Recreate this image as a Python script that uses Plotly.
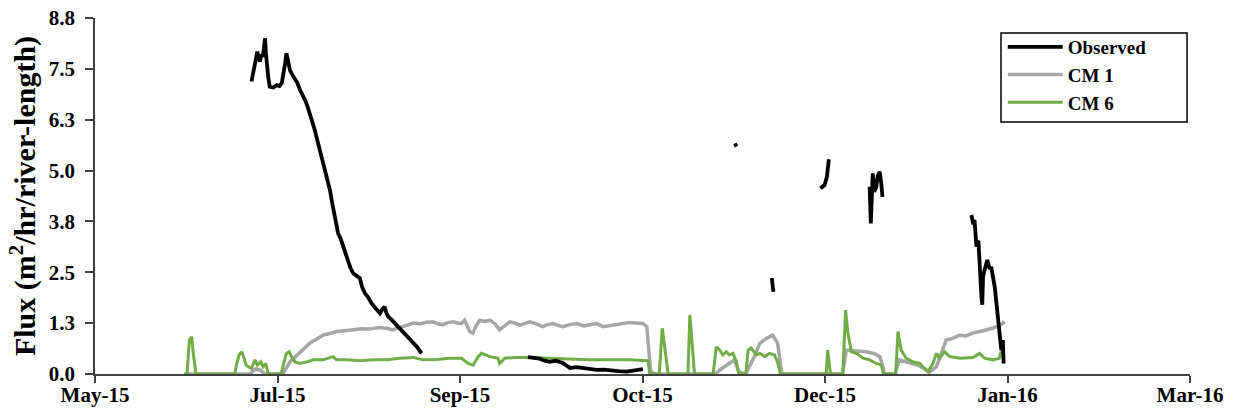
import pandas as pd
import plotly.graph_objects as go

BASE = pd.Timestamp("2015-01-01")

# x values are day numbers counted from 2015-01-01
obs_day = [190.3, 190.8, 191.2, 191.5, 191.8, 192.2, 192.5, 192.9, 193.2, 193.5, 193.8, 194.0, 194.2,
           194.6, 195.0, 195.9, 196.8, 197.5, 198.1, 198.6, 199.0, 199.3, 199.7, 200.2, 200.8, 201.5,
           202.1, 202.8, 203.4, 204.1, 204.7, 205.3, 206.0, 206.6, 207.2, 207.9, 208.5, 209.2, 209.8,
           210.5, 211.1, 211.8, 212.2, 212.6, 213.2, 213.9, 214.5, 215.2, 215.8, 216.5, 217.3, 218.2,
           218.8, 219.5, 220.3, 221.2, 222.3, 223.4, 224.0, 224.6, 225.0, 225.5, 226.5, 227.7, 229.0,
           230.2, 231.0, 231.9, 233.0, 234.1,
           245.0,
           261.5, 263.0, 264.5, 265.8, 267.1, 268.7, 270.5, 271.4, 272.3, 274.0, 275.6, 277.4, 279.2,
           281.0, 282.6, 284.8, 286.9, 289.0, 291.1,
           300.0,
           314.8, 315.2,
           320.0,
           324.3, 324.5, 324.7,
           330.0,
           336.8, 337.9, 338.5, 339.0,
           345.0,
           349.5, 349.8, 350.0, 350.3, 350.7, 351.2, 351.6, 352.1, 352.5, 352.8,
           365.0,
           375.7, 376.2, 376.5, 377.0, 377.5, 377.8, 378.3, 378.5, 378.7, 379.1, 379.8, 380.4,
           380.8, 381.7, 382.5, 383.0, 383.4, 383.8, 384.0]
obs_val = [7.23, 7.45, 7.68, 7.85, 7.97, 7.80, 7.72, 7.90, 7.84, 8.05, 8.30, 7.95, 7.68,
           7.35, 7.10, 7.08, 7.14, 7.12, 7.19, 7.43, 7.70, 7.93, 7.70, 7.51, 7.40, 7.31,
           7.20, 7.02, 6.92, 6.77, 6.62, 6.44, 6.26, 6.03, 5.80, 5.54, 5.34, 5.12, 4.86,
           4.55, 4.22, 3.89, 3.70, 3.48, 3.36, 3.15, 3.02, 2.82, 2.62, 2.49, 2.42, 2.37,
           2.15, 2.00, 1.90, 1.75, 1.62, 1.50, 1.60, 1.66, 1.52, 1.42, 1.33, 1.21, 1.08,
           0.96, 0.86, 0.76, 0.66, 0.51,
           None,
           0.42, 0.40, 0.38, 0.33, 0.30, 0.33, 0.27, 0.21, 0.15, 0.17, 0.15, 0.12, 0.10,
           0.11, 0.09, 0.07, 0.06, 0.08, 0.12,
           None,
           5.70, 5.62,
           None,
           2.37, 2.20, 2.03,
           None,
           4.59, 4.67, 4.88, 5.31,
           None,
           4.63, 3.72, 4.23, 4.96, 4.50, 4.63, 4.90, 5.00, 4.70, 4.38,
           None,
           3.93, 3.70, 3.81, 3.15, 3.30, 2.65, 1.90, 1.71, 2.40, 2.57, 2.82, 2.60,
           2.65, 2.16, 1.50, 0.92, 0.60, 0.84, 0.26]

cm1_day = [173.0, 189.9, 191.2, 192.5, 193.8, 198.4, 200.2, 202.8, 205.3, 207.0, 208.7, 210.5, 212.2,
           214.3, 216.4, 218.6, 220.8, 223.0, 225.1, 226.7, 228.0, 229.3, 230.6, 231.9, 233.7, 235.3,
           237.0, 238.3, 239.6, 240.9, 242.2, 243.3, 244.4, 245.2, 246.5, 247.3, 248.2, 249.1, 250.4,
           251.7, 252.9, 254.2, 255.5, 256.8, 258.1, 259.4, 260.7, 262.0, 263.6, 265.3, 266.6, 267.9,
           269.2, 270.5, 272.3, 274.1, 275.8, 277.4, 279.1, 280.8, 282.6, 284.4, 286.0, 287.7, 289.4,
           291.1, 292.1, 292.6, 293.1, 294.1, 309.8, 310.9, 313.4, 314.7,
           315.8, 317.6, 319.9, 321.2, 322.9, 324.5, 325.8, 326.8, 327.3, 342.5, 343.5, 346.1,
           348.6, 350.8, 352.1, 352.9, 353.3, 356.0, 357.2, 358.9, 360.6, 362.4, 364.1, 364.9,
           366.7, 367.8, 369.2, 370.9, 372.7, 374.3, 376.0, 377.8, 379.5, 381.2, 383.0, 383.8,
           384.2]
cm1_val = [0.0, 0.0, 0.12, 0.10, 0.0, 0.0, 0.30, 0.52, 0.76, 0.86, 0.96, 1.00, 1.05,
           1.07, 1.09, 1.12, 1.11, 1.15, 1.13, 1.09, 1.14, 1.17, 1.21, 1.26, 1.24, 1.28,
           1.29, 1.24, 1.22, 1.27, 1.29, 1.26, 1.25, 1.33, 1.05, 1.01, 1.20, 1.33, 1.30,
           1.33, 1.25, 1.09, 1.20, 1.29, 1.26, 1.21, 1.25, 1.29, 1.24, 1.17, 1.22, 1.25,
           1.20, 1.17, 1.22, 1.25, 1.19, 1.21, 1.25, 1.17, 1.20, 1.21, 1.24, 1.27, 1.26,
           1.25, 1.17, 0.52, 0.06, 0.0, 0.0, 0.10, 0.26, 0.35,
           0.05, 0.0, 0.45, 0.76, 0.88, 0.96, 0.76, 0.05, 0.0, 0.0, 0.59, 0.57,
           0.55, 0.50, 0.43, 0.18, 0.0, 0.0, 0.35, 0.30, 0.26, 0.20, 0.10, 0.05,
           0.18, 0.50, 0.84, 0.88, 0.96, 0.94, 1.01, 1.05, 1.09, 1.13, 1.21, 1.25,
           1.30]

cm6_day = [173.0, 173.7, 174.3, 174.9, 175.3, 176.0, 186.0, 186.5, 187.1, 187.8, 188.4, 188.9,
           189.5, 190.3, 191.2, 191.8, 192.7, 193.3, 194.0, 194.6, 197.6, 198.1, 198.6, 199.3,
           200.0, 200.6, 201.5, 202.8, 204.5, 206.2, 208.8, 211.3, 212.2, 214.8, 218.2, 221.6,
           225.1, 228.5, 231.9, 234.5, 237.9, 241.4, 244.4, 246.1, 247.4, 248.7, 249.5, 251.7,
           253.8, 254.2, 255.5, 258.5, 262.0, 267.1, 272.3, 277.4, 282.6, 287.7, 292.4, 292.9,
           295.3, 296.1, 297.6, 302.7, 303.2, 304.4, 309.2, 310.0, 310.9, 311.7, 312.6, 313.4,
           314.3, 315.2, 315.8, 317.6, 318.2, 319.0, 320.3, 321.2, 322.5, 323.7, 325.0, 325.9,
           326.5, 338.3, 338.7, 339.4, 342.6, 343.3, 343.9, 344.8, 346.1, 347.8, 349.5, 351.2,
           352.5, 353.1, 356.2, 356.8, 357.6, 358.9, 360.6, 362.4, 363.6, 364.5, 365.8, 366.7,
           367.5, 368.8, 370.1, 372.7, 376.1, 377.8, 379.1, 381.2, 382.9, 383.4, 383.7]
cm6_val = [0.0, 0.0, 0.84, 0.92, 0.52, 0.0, 0.0, 0.26, 0.47, 0.55, 0.39, 0.22,
           0.18, 0.14, 0.35, 0.22, 0.30, 0.18, 0.26, 0.0, 0.0, 0.06, 0.26, 0.51,
           0.55, 0.43, 0.30, 0.26, 0.30, 0.35, 0.35, 0.43, 0.35, 0.35, 0.33, 0.35,
           0.35, 0.39, 0.41, 0.35, 0.36, 0.39, 0.39, 0.26, 0.22, 0.43, 0.51, 0.43,
           0.39, 0.26, 0.39, 0.41, 0.41, 0.39, 0.36, 0.35, 0.35, 0.35, 0.33, 0.0,
           0.0, 1.13, 0.0, 0.0, 1.46, 0.0, 0.0, 0.67, 0.59, 0.47, 0.55, 0.47,
           0.51, 0.30, 0.0, 0.0, 0.59, 0.64, 0.47, 0.51, 0.43, 0.51, 0.47, 0.26,
           0.0, 0.0, 0.59, 0.0, 0.0, 1.58, 1.01, 0.55, 0.51, 0.39, 0.35, 0.26,
           0.22, 0.0, 0.0, 1.05, 0.59, 0.39, 0.30, 0.26, 0.14, 0.06, 0.26, 0.51,
           0.39, 0.55, 0.43, 0.39, 0.41, 0.51, 0.39, 0.35, 0.39, 0.59, 0.55]

x_tick_days = [150, 197, 244, 291, 338, 385, 432]
x_tick_labels = ["May-15", "Jul-15", "Sep-15", "Oct-15", "Dec-15", "Jan-16", "Mar-16"]
y_tick_vals = [0.0, 8.8 / 7, 2 * 8.8 / 7, 3 * 8.8 / 7, 4 * 8.8 / 7, 5 * 8.8 / 7, 6 * 8.8 / 7, 8.8]
y_tick_labels = ["0.0", "1.3", "2.5", "3.8", "5.0", "6.3", "7.5", "8.8"]


def to_dates(days):
    return list(BASE + pd.to_timedelta(days, unit="D"))


FONT = "Liberation Serif, Times New Roman, serif"

fig = go.Figure()
fig.add_trace(go.Scatter(x=to_dates(cm1_day), y=cm1_val, mode="lines", name="CM 1",
                         line=dict(color="#a6a6a6", width=3.5), connectgaps=False, legendrank=2))
fig.add_trace(go.Scatter(x=to_dates(cm6_day), y=cm6_val, mode="lines", name="CM 6",
                         line=dict(color="#70ad47", width=3), connectgaps=False, legendrank=3))
fig.add_trace(go.Scatter(x=to_dates(obs_day), y=obs_val, mode="lines", name="Observed",
                         line=dict(color="black", width=3.8), connectgaps=False, legendrank=1))

fig.update_layout(
    width=1245, height=419,
    margin=dict(l=95, r=55, t=18, b=45, autoexpand=False),
    paper_bgcolor="white", plot_bgcolor="white",
    font=dict(family=FONT, size=21, color="black"),
    showlegend=True,
    legend=dict(
        x=0.829, y=0.972, xanchor="left", yanchor="top",
        borderwidth=0, bgcolor="rgba(0,0,0,0)",
        font=dict(family=FONT, size=19, color="black", weight="bold"),
        traceorder="normal", itemwidth=55,
        tracegroupgap=0,
    ),
    shapes=[dict(type="rect", xref="paper", yref="paper",
                 x0=0.8274, x1=0.9973, y0=0.7079, y1=0.9579,
                 line=dict(color="black", width=1.5), fillcolor="white", layer="above")],
    xaxis=dict(
        type="date", automargin=False,
        range=to_dates([150, 432]),
        tickvals=to_dates(x_tick_days), ticktext=x_tick_labels,
        showline=True, linecolor="#404040", linewidth=1.5,
        ticks="outside", ticklen=7, tickwidth=1.5, tickcolor="#404040",
        showgrid=False, zeroline=False, layer="above traces",
        ticklabelstandoff=-6,
        tickfont=dict(family=FONT, size=21, color="black", weight="bold"),
    ),
    yaxis=dict(
        automargin=False,
        range=[0, 8.8],
        tickvals=y_tick_vals, ticktext=y_tick_labels,
        showline=True, linecolor="#404040", linewidth=1.5,
        ticks="outside", ticklen=8, tickwidth=1.5, tickcolor="#404040",
        showgrid=False, zeroline=False,
        ticklabelstandoff=6,
        tickfont=dict(family=FONT, size=21, color="black", weight="bold"),
        title=dict(text="Flux (m<sup>2</sup>/hr/river-length)",
                   font=dict(family=FONT, size=30, color="black", weight="bold"),
                   standoff=4),
    ),
)

fig.write_html(
    "out.html",
    config={"displayModeBar": False},
    post_script="document.body.style.margin='0';document.body.style.overflow='hidden';",
)
